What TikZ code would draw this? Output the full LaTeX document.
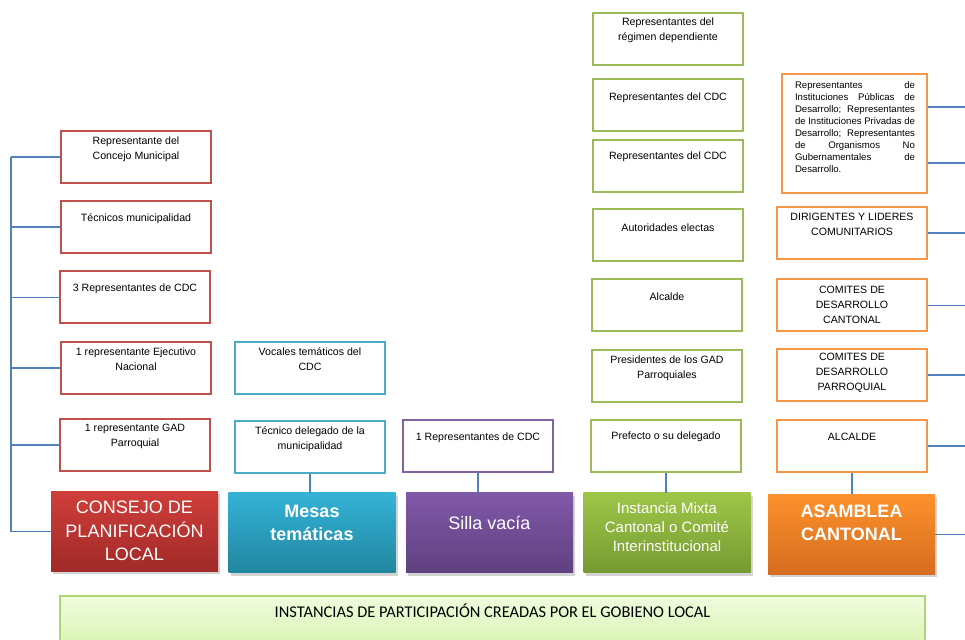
\documentclass[tikz,border=0pt]{standalone}
\usepackage{fontspec}
\setmainfont{Liberation Sans}
\newfontfamily\bannerfont{Carlito}
\usetikzlibrary{calc,shadows}

\definecolor{redline}{RGB}{192,80,77}
\definecolor{cyanline}{RGB}{75,172,198}
\definecolor{purpleline}{RGB}{128,100,162}
\definecolor{greenline}{RGB}{155,187,89}
\definecolor{orangeline}{RGB}{247,150,70}
\definecolor{linkblue}{RGB}{79,129,189}
\definecolor{redtop}{RGB}{208,62,58}
\definecolor{redbot}{RGB}{160,42,40}
\definecolor{cyantop}{RGB}{52,178,214}
\definecolor{cyanbot}{RGB}{33,134,160}
\definecolor{purpletop}{RGB}{128,88,168}
\definecolor{purplebot}{RGB}{96,64,128}
\definecolor{greentop}{RGB}{158,198,72}
\definecolor{greenbot}{RGB}{118,154,50}
\definecolor{orangetop}{RGB}{252,146,44}
\definecolor{orangebot}{RGB}{214,108,30}
\definecolor{bannertop}{RGB}{240,252,222}
\definecolor{bannerbot}{RGB}{218,244,180}
\definecolor{bannerline}{RGB}{176,212,120}

\newcommand{\jline}[1]{{\spaceskip=0pt\xspaceskip=0pt\makebox[60pt][s]{#1}}\\}

\begin{document}
\begin{tikzpicture}[x=0.5pt,y=-0.5pt,
	box/.style={draw, line width=1pt, fill=white, inner sep=0pt, minimum width=75pt, minimum height=26pt},
	redbox/.style={box, draw=redline},
	cyanbox/.style={box, draw=cyanline},
	purplebox/.style={box, draw=purpleline},
	greenbox/.style={box, draw=greenline},
	orangebox/.style={box, draw=orangeline},
	txt/.style={inner sep=0pt, align=center, font=\fontsize{5.3}{7.5}\selectfont},
	big/.style={inner sep=0pt, minimum width=83.5pt, minimum height=40pt,
		drop shadow={shadow xshift=1pt, shadow yshift=-1.5pt, opacity=0.35, fill=black!50}},
	bigtxt/.style={inner sep=0pt, align=center, text=white, font=\fontsize{9}{11.75}\selectfont},
	link/.style={draw=linkblue, line width=0.7pt}]
			\useasboundingbox (0,0) rectangle (965,640);
			
			% consejo de planificacion
			\node[redbox] (r1) at (136,157) {};
			\node[txt] (r1t) at ($(r1.north)+(0,19)$) {Representante del\\Concejo Municipal};
			\node[redbox] (r2) at (136,227) {};
			\node[txt] (r2t) at ($(r2.north)+(0,19)$) {Técnicos municipalidad};
			\node[redbox] (r3) at (135,297.5) {};
			\node[txt] (r3t) at ($(r3.north)+(0,18)$) {3 Representantes de CDC};
			\node[redbox] (r4) at (136,368) {};
			\node[txt] (r4t) at ($(r4.north)+(0,18)$) {1 representante Ejecutivo\\Nacional};
			\node[redbox] (r5) at (135,445) {};
			\node[txt] (r5t) at ($(r5.north)+(0,18)$) {1 representante GAD\\Parroquial};
			
			% mesas tematicas
			\node[cyanbox] (v1) at (310,368) {};
			\node[txt] (v1t) at ($(v1.north)+(0,18)$) {Vocales temáticos del\\CDC};
			\node[cyanbox] (v2) at (310,447) {};
			\node[txt] (v2t) at ($(v2.north)+(0,19)$) {Técnico delegado de la\\municipalidad};
			
			% silla vacia
			\node[purplebox] (p1) at (478,446) {};
			\node[txt] (p1t) at ($(p1.north)+(0,19)$) {1 Representantes de CDC};
			
			% instancia mixta
			\node[greenbox] (g1) at (668,39.5) {};
			\node[txt] (g1t) at ($(g1.north)+(0,18)$) {Representantes del\\régimen dependiente};
			\node[greenbox] (g2) at (668,105.5) {};
			\node[txt] (g2t) at ($(g2.north)+(0,19)$) {Representantes del CDC};
			\node[greenbox] (g3) at (668,166.5) {};
			\node[txt] (g3t) at ($(g3.north)+(0,17)$) {Representantes del CDC};
			\node[greenbox] (g4) at (668,235.5) {};
			\node[txt] (g4t) at ($(g4.north)+(0,19)$) {Autoridades electas};
			\node[greenbox] (g5) at (667,305.5) {};
			\node[txt] (g5t) at ($(g5.north)+(0,18)$) {Alcalde};
			\node[greenbox] (g6) at (667,376) {};
			\node[txt] (g6t) at ($(g6.north)+(0,19)$) {Presidentes de los GAD\\Parroquiales};
			\node[greenbox] (g7) at (666,446) {};
			\node[txt] (g7t) at ($(g7.north)+(0,18)$) {Prefecto o su delegado};
			
			% asamblea cantonal
			\node[orangebox, minimum width=72.5pt, minimum height=59.5pt] (o1) at (854.5,133.5) {};
			\node[inner sep=0pt, text width=60pt, align=left, font=\fontsize{4.8}{6}\selectfont] (o1t) at (855,127.5)
				{\jline{Representantes de}\jline{Instituciones Públicas de}\jline{Desarrollo; Representantes}\jline{de Instituciones Privadas de}\jline{Desarrollo; Representantes}\jline{de Organismos No}\jline{Gubernamentales de}Desarrollo.};
			\node[orangebox] (o2) at (852,233) {};
			\node[txt] (o2t) at ($(o2.north)+(0,18)$) {DIRIGENTES Y LIDERES\\COMUNITARIOS};
			\node[orangebox] (o3) at (852,305.5) {};
			\node[txt] (o3t) at ($(o3.north)+(0,26)$) {COMITES DE\\DESARROLLO\\CANTONAL};
			\node[orangebox] (o4) at (852,375) {};
			\node[txt] (o4t) at ($(o4.north)+(0,25)$) {COMITES DE\\DESARROLLO\\PARROQUIAL};
			\node[orangebox] (o5) at (852,446) {};
			\node[txt] (o5t) at ($(o5.north)+(0,18)$) {ALCALDE};
			
			% instancias
			\node[big, top color=redtop, bottom color=redbot] (consejo) at (134.5,531.5) {};
			\node[bigtxt] (consejot) at (134.5,531) {CONSEJO DE\\PLANIFICACIÓN\\LOCAL};
			\node[big, top color=cyantop, bottom color=cyanbot] (mesas) at (312,533) {};
			\node[bigtxt, font=\fontsize{9}{11.5}\selectfont\bfseries] (mesast) at (312,522.5) {Mesas\\temáticas};
			\node[big, top color=purpletop, bottom color=purplebot] (silla) at (489.5,533) {};
			\node[bigtxt] (sillat) at (489.5,523) {Silla vacía};
			\node[big, top color=greentop, bottom color=greenbot] (instancia) at (667,533) {};
			\node[bigtxt, font=\fontsize{7.5}{9.5}\selectfont] (instanciat) at (667,527) {Instancia Mixta\\Cantonal o Comité\\Interinstitucional};
			\node[big, top color=orangetop, bottom color=orangebot] (asamblea) at (851.5,534.5) {};
			\node[bigtxt, font=\fontsize{9}{11.5}\selectfont\bfseries] (asambleat) at (851.5,522.5) {ASAMBLEA\\CANTONAL};
			
			\node[draw=bannerline, line width=0.8pt, top color=bannertop, bottom color=bannerbot,
				minimum width=432.5pt, minimum height=24pt, inner sep=0pt] (banner) at (492.5,620) {};
			\node[inner sep=0pt, font=\bannerfont\fontsize{8.2}{10}\selectfont] (bannert) at (492.5,611)
				{INSTANCIAS DE PARTICIPACIÓN CREADAS POR EL GOBIENO LOCAL};
			
			% conectores
			\coordinate (ltop) at (11,157);
			\coordinate (lbot) at (11,532);
			\coordinate (redge) at (965,0);
			\draw[link] (ltop) -- (lbot);
			\foreach \b in {r1,r2,r3,r4,r5,consejo}
			\draw[link] (\b.west) -- (\b.west -| ltop);
			
			\draw[link] (v2.south) -- (v2.south |- mesas.north);
			\draw[link] (p1.south) -- (p1.south |- silla.north);
			\draw[link] (g7.south) -- (g7.south |- instancia.north);
			\draw[link] (o5.south) -- (o5.south |- asamblea.north);
			
			\draw[link] ([yshift=13.25pt]o1.east) -- ([yshift=13.25pt]o1.east -| redge);
			\draw[link] ([yshift=-14.75pt]o1.east) -- ([yshift=-14.75pt]o1.east -| redge);
			\foreach \b in {o2,o3,o4,o5,asamblea}
			\draw[link] (\b.east) -- (\b.east -| redge);
		\end{tikzpicture}
\end{document}
